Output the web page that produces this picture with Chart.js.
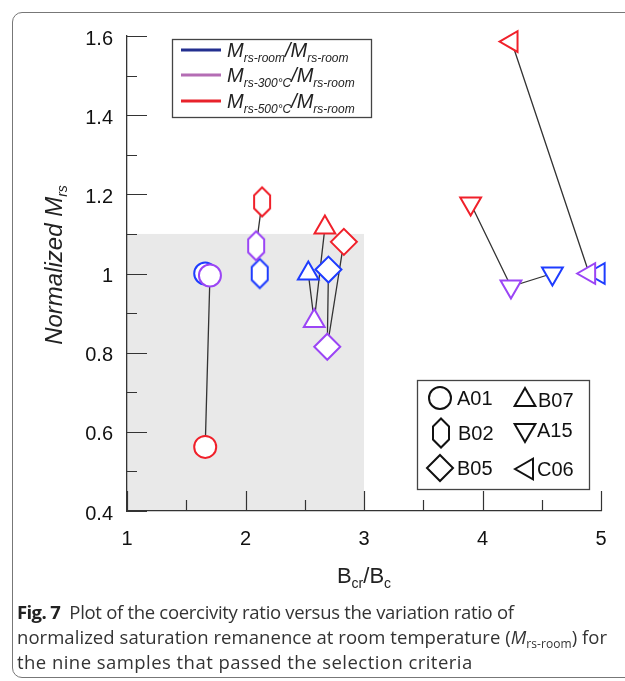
<!DOCTYPE html>
<html>
<head>
<meta charset="utf-8">
<script src="https://cdn.jsdelivr.net/npm/chart.js@4/dist/chart.umd.min.js"></script>
<style>
  html, body { margin: 0; padding: 0; background: #fff; }
  #wrap { position: relative; width: 625px; height: 681px; overflow: hidden; }
  #frame { position: absolute; left: 12px; top: 12px; width: 650px; height: 666px; border: 1.5px solid #777;
           border-radius: 10px; box-sizing: border-box; }
  #c { position: absolute; left: 0; top: 0; }
  #cap { position: absolute; left: 17px; top: 599px; width: 610px; font-family: "Open Sans", sans-serif;
         font-size: 18.5px; line-height: 25px; color: #333; white-space: nowrap; }
  #cap div { height: 25px; }
  #cap b { color: #222; letter-spacing: -0.6px; }
  #cap sub { font-size: 12px; line-height: 0; vertical-align: -4px; }
</style>
</head>
<body>
<div id="wrap">
  <div id="frame"></div>
  <canvas id="c" width="625" height="681"></canvas>
  <div id="cap">
    <div style="letter-spacing:-0.3px"><b>Fig. 7</b>&nbsp; Plot of the coercivity ratio versus the variation ratio of</div>
    <div style="letter-spacing:0.05px">normalized saturation remanence at room temperature (<i>M</i><sub>rs-room</sub>) for</div>
    <div style="letter-spacing:0.45px">the nine samples that passed the selection criteria</div>
  </div>
</div>
<script>
// samples (one marker shape each)
const samples = ["A01", "B02", "B05", "B07", "A15", "C06"];
// Mrs-room / Mrs-room
const roomX = [1.66, 2.12, 2.70, 2.53, 4.59, 4.98];
const roomY = [1.0, 1.0, 1.01, 1.0, 1.0, 1.0];
// Mrs-300C / Mrs-room
const c300X = [1.70, 2.09, 2.69, 2.58, 4.24, 4.90];
const c300Y = [0.995, 1.07, 0.815, 0.88, 0.967, 1.0];
// Mrs-500C / Mrs-room
const c500X = [1.66, 2.14, 2.83, 2.67, 3.90, 4.245];
const c500Y = [0.562, 1.181, 1.08, 1.116, 1.177, 1.586];
// selection region
const shadeX = [1, 3];
const shadeY = [0.4, 1.1];
const xTicks = [1, 2, 3, 4, 5];
const yTicks = [0.4, 0.6, 0.8, 1, 1.2, 1.4, 1.6];

const BLUE = "#1e3cff", PURPLE = "#9b45f5", RED = "#f0202a";
const FONT = '"Liberation Sans", Arial, sans-serif';

function hexImage(color) {
  const c = document.createElement("canvas");
  c.width = 22; c.height = 34;
  const g = c.getContext("2d");
  g.beginPath();
  g.moveTo(11, 2.5); g.lineTo(19, 10.5); g.lineTo(19, 23.5);
  g.lineTo(11, 31.5); g.lineTo(3, 23.5); g.lineTo(3, 10.5);
  g.closePath();
  g.fillStyle = "#fff"; g.fill();
  g.strokeStyle = color; g.lineWidth = 2; g.stroke();
  return c;
}

const shapeOf = ["circle", "hex", "rectRot", "triangle", "triangle", "triangle"];
const rotOf = [0, 0, 0, 0, 180, -90];
const radOf = [11, 12, 13, 12, 12, 12];

function markerSet(label, xs, ys, color, order) {
  const hex = hexImage(color);
  return {
    type: "scatter",
    label: label,
    data: xs.map((x, i) => ({ x: x, y: ys[i] })),
    pointStyle: shapeOf.map((s) => (s === "hex" ? hex : s)),
    pointRotation: rotOf,
    pointRadius: radOf,
    pointBorderWidth: 2,
    borderColor: color,
    backgroundColor: "#fff",
    pointBackgroundColor: "#fff",
    order: order,
    clip: false,
  };
}

const connectors = samples.map((s, i) => ({
  type: "scatter",
  label: s,
  data: [
    { x: roomX[i], y: roomY[i] },
    { x: c300X[i], y: c300Y[i] },
    { x: c500X[i], y: c500Y[i] },
  ],
  showLine: true,
  pointRadius: 0,
  borderColor: "#333",
  borderWidth: 1.3,
  order: 10,
  clip: false,
}));

function rich(ctx, parts, x, y) {
  for (const [t, size, it, dy] of parts) {
    ctx.font = (it ? "italic " : "") + size + "px " + FONT;
    ctx.fillText(t, x, y + dy);
    x += ctx.measureText(t).width;
  }
  return x;
}

function richWidth(ctx, parts) {
  let w = 0;
  for (const [t, size, it] of parts) {
    ctx.font = (it ? "italic " : "") + size + "px " + FONT;
    w += ctx.measureText(t).width;
  }
  return w;
}

function drawMarker(ctx, shape, x, y, r, rot) {
  ctx.beginPath();
  if (shape === "circle") {
    ctx.arc(x, y, r, 0, Math.PI * 2);
  } else if (shape === "hex") {
    ctx.moveTo(x, y - 14.5); ctx.lineTo(x + 8, y - 6.5); ctx.lineTo(x + 8, y + 6.5);
    ctx.lineTo(x, y + 14.5); ctx.lineTo(x - 8, y + 6.5); ctx.lineTo(x - 8, y - 6.5);
  } else if (shape === "rectRot") {
    ctx.moveTo(x, y - r); ctx.lineTo(x + r, y); ctx.lineTo(x, y + r); ctx.lineTo(x - r, y);
  } else {
    let a = (rot * Math.PI) / 180;
    for (let k = 0; k < 3; k++) {
      const px = x + Math.sin(a) * r, py = y - Math.cos(a) * r;
      if (k === 0) ctx.moveTo(px, py); else ctx.lineTo(px, py);
      a += (2 * Math.PI) / 3;
    }
  }
  ctx.closePath();
  ctx.fillStyle = "#fff";
  ctx.fill();
  ctx.stroke();
}

const decor = {
  id: "decor",
  beforeDraw(chart) {
    const { ctx } = chart;
    const xs = chart.scales.x, ys = chart.scales.y;
    const x0 = xs.getPixelForValue(shadeX[0]), x1 = xs.getPixelForValue(shadeX[1]);
    const y0 = ys.getPixelForValue(shadeY[0]), y1 = ys.getPixelForValue(shadeY[1]);
    ctx.save();
    ctx.fillStyle = "#e9e9e9";
    ctx.fillRect(x0, y1, x1 - x0, y0 - y1);
    ctx.restore();
  },
  afterDraw(chart) {
    const { ctx, chartArea } = chart;
    const xs = chart.scales.x, ys = chart.scales.y;
    ctx.save();
    // inward ticks
    ctx.strokeStyle = "#333";
    ctx.lineWidth = 1.2;
    ctx.beginPath();
    for (let k = 2; k <= 10; k++) {
      const px = Math.round(xs.getPixelForValue(k / 2)) + 0.5;
      const len = k % 2 === 0 ? 20 : 11;
      ctx.moveTo(px, chartArea.bottom);
      ctx.lineTo(px, chartArea.bottom - len);
    }
    for (let k = 4; k <= 16; k++) {
      const py = Math.round(ys.getPixelForValue(k / 10)) + 0.5;
      const len = k % 2 === 0 ? 20 : 10;
      ctx.moveTo(chartArea.left, py);
      ctx.lineTo(chartArea.left + len, py);
    }
    ctx.stroke();

    // axis titles
    ctx.fillStyle = "#222";
    ctx.textBaseline = "alphabetic";
    const xt = [["B", 22, false, 0], ["cr", 14, false, 5], ["/B", 22, false, 0], ["c", 14, false, 5]];
    rich(ctx, xt, (chartArea.left + chartArea.right) / 2 - richWidth(ctx, xt) / 2, 583);

    const yt = [["Normalized ", 24, true, 0], ["M", 24, true, 0], ["rs", 14, true, 5]];
    ctx.save();
    ctx.translate(62, 265);
    ctx.rotate(-Math.PI / 2);
    rich(ctx, yt, -richWidth(ctx, yt) / 2, 0);
    ctx.restore();

    // temperature legend
    ctx.fillStyle = "#fff";
    ctx.fillRect(172, 39, 199, 78);
    ctx.strokeStyle = "#444";
    ctx.lineWidth = 1.3;
    ctx.strokeRect(172.5, 39.5, 199, 78);
    const rows = [
      [[["M", 20, true, 0], ["rs-room", 12, true, 5], ["/M", 20, true, 0], ["rs-room", 12, true, 5]], "#232f8f", 57],
      [[["M", 20, true, 0], ["rs-300°C", 12, true, 5], ["/M", 20, true, 0], ["rs-room", 12, true, 5]], "#b46db4", 82],
      [[["M", 20, true, 0], ["rs-500°C", 12, true, 5], ["/M", 20, true, 0], ["rs-room", 12, true, 5]], "#e8222b", 108],
    ];
    for (const [parts, col, base] of rows) {
      ctx.strokeStyle = col;
      ctx.lineWidth = 3;
      ctx.beginPath();
      ctx.moveTo(181, base - 7);
      ctx.lineTo(221, base - 7);
      ctx.stroke();
      ctx.fillStyle = "#222";
      rich(ctx, parts, 227, base);
    }

    // sample legend
    ctx.fillStyle = "#fff";
    ctx.fillRect(417, 380, 172, 109);
    ctx.strokeStyle = "#444";
    ctx.lineWidth = 1.3;
    ctx.strokeRect(417.5, 380.5, 172, 109);
    const cells = [
      [0, 440, 398, 457], [3, 525, 400, 538],
      [1, 441, 433, 458], [4, 525, 430, 537],
      [2, 440, 468, 457], [5, 527, 469, 537],
    ];
    for (const [i, mx, my, tx] of cells) {
      ctx.strokeStyle = "#111";
      ctx.lineWidth = 2;
      drawMarker(ctx, shapeOf[i], mx, my, radOf[i], rotOf[i]);
      ctx.fillStyle = "#111";
      ctx.font = "20px " + FONT;
      ctx.textBaseline = "middle";
      ctx.fillText(samples[i], tx, my + 1);
      ctx.textBaseline = "alphabetic";
    }
    ctx.restore();
  },
};

new Chart(document.getElementById("c"), {
  type: "scatter",
  data: {
    datasets: [
      ...connectors,
      markerSet("Mrs-room/Mrs-room", roomX, roomY, BLUE, 3),
      markerSet("Mrs-500C/Mrs-room", c500X, c500Y, RED, 2),
      markerSet("Mrs-300C/Mrs-room", c300X, c300Y, PURPLE, 1),
    ],
  },
  options: {
    responsive: false,
    animation: false,
    layout: { padding: { left: 0, top: 36, right: 24, bottom: 0 } },
    plugins: { legend: { display: false }, tooltip: { enabled: false } },
    scales: {
      x: {
        type: "linear",
        min: xTicks[0],
        max: xTicks[xTicks.length - 1],
        afterBuildTicks: (s) => { s.ticks = xTicks.map((v) => ({ value: v })); },
        afterFit: (s) => { s.height = 170; },
        grid: { display: false, drawTicks: false },
        border: { display: true, color: "#333", width: 1.3 },
        ticks: { font: { family: FONT, size: 20 }, color: "#111", padding: 16, maxRotation: 0,
                 callback: (v) => String(v) },
      },
      y: {
        type: "linear",
        min: yTicks[0],
        max: yTicks[yTicks.length - 1],
        afterBuildTicks: (s) => { s.ticks = yTicks.map((v) => ({ value: v })); },
        afterFit: (s) => { s.width = 127; },
        grid: { display: false, drawTicks: false },
        border: { display: true, color: "#333", width: 1.3 },
        ticks: { font: { family: FONT, size: 20 }, color: "#111", padding: 14, labelOffset: 3,
                 callback: (v) => String(Math.round(v * 10) / 10) },
      },
    },
  },
  plugins: [decor],
});
</script>
</body>
</html>
